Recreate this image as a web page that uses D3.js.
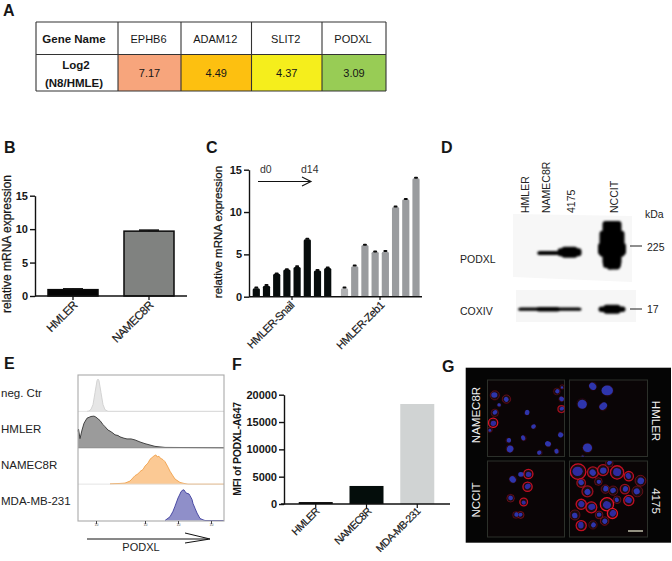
<!DOCTYPE html>
<html><head><meta charset="utf-8">
<script src="https://cdn.jsdelivr.net/npm/d3@7/dist/d3.min.js"></script>
<style>html,body{margin:0;padding:0;background:#fff}svg{display:block}text{font-family:"Liberation Sans",Arial,sans-serif;fill:#161616}</style>
</head><body><svg id="c" width="672" height="561" viewBox="0 0 672 561"></svg>
<script>
// ---------- data ----------
const geneNames = ["EPHB6","ADAM12","SLIT2","PODXL"];
const geneLog2 = ["7.17","4.49","4.37","3.09"];
const geneColors = ["#f7a57c","#fdc010","#f5ee1c","#98cc55"];
const bCats = ["HMLER","NAMEC8R"];
const bVals = [0.95,9.7];
const bErr = [0.12,0.15];
const cSnail = [1,1.3,2.7,3.2,3.5,6.8,3.1,3.4];
const cZeb = [1,3.6,6.1,5.3,5.3,10.6,11.5,14];
const cErr = [0.12,0.12,0.08,0.08,0.15,0.1,0.1,0.1];
const fCats = ["HMLER","NAMEC8R","MDA-MB-231"];
const fVals = [350,3300,18300];
const fColors = ["#000","#040d0b","#d0d3d3"];
const eRows = ["neg. Ctr","HMLER","NAMEC8R","MDA-MB-231"];
const negX=[9,11,13,15,17,19,20,21,23,25,27,30,146], negY=[0,1,6,20,55,90,95,90,55,20,5,0,0];
const hmlX=[0,0.5,2,4,6,9,13,16,18,20,22,25,27,30,32,35,37,40,42,46,49,53,57,62,67,72,77,87,146], hmlY=[48,55,27,52,72,87,92,93,90,85,80,68,62,52,49,43,38,36,32,28,26,26,23,17,12,8,4,1,0];
const namX=[32,42,47,52,57,60,62,65,67,70,72,74,76,78,79,81,82,85,87,90,92,95,97,100,102,106,110,146], namY=[1,2,3,9,25,30,37,43,53,62,73,78,83,86,80,82,77,72,66,50,38,24,15,9,5,2,0,0];
const mdaX=[87,92,95,97,100,102,103,105,106,108,109,111,112,114,115,117,119,122,125,127,146], mdaY=[0,11,27,42,66,78,85,90,90,81,80,78,73,62,50,36,22,6,2,0,0];
const eTickVals=[18,67,100,133];
const lanes=["HMLER","NAMEC8R","4175","NCCIT"], lanePos=[0,1,2,4];
const podxlBands=[[1,22,4,56],[2,24,8,55],[2,16,11,55],[4,19,44,41],[4,25,26,42],[4,28,12,50],[4,18,9,72],[4.12,11,8,75],[3.9,6,10,74]];
const coxBands=[[0.1,22,3.2,60],[1,24,4.5,60],[2,24,3.2,60],[4,27,5.5,60],[4,17,9,60]];
// cells: x%, y%, radius%, red-membrane signal
const cellsNamec=[[9.5,20,6,.4],[24.6,25,5.5,.45],[7.3,56,6,.95],[9.5,43,5,.3],[15,33,2.5,.1],[3,65,3.5,.3],[51,43,3.5,0],[60,61,3.5,.05],[27,79,3.5,.1],[47,76,3.5,.15],[29,90,5,.15],[68,95,3.5,.1],[79,84,4,.05],[90,93,3.5,.1],[95,71,4,0],[96,38,4.5,.7],[96,25,3.5,.2],[97,9,3,.25],[90,15,4.5,.25]];
const cellsHmler=[[49,14,7.5,.05],[30,8,5.5,.05],[16,31,7,.05],[43,35,5.5,.05],[23,89,6.5,.1],[17,100,2.5,.05]];
const cellsNccit=[[44,18,3.5,0],[33,24,5,.1],[53,17,6,.85],[52,34,6,.85],[30,49,5,.45],[47,54,5,.85],[37,71,4.5,.3],[43,71,4.5,.55]];
const cells4175=[[11,14,10,.9],[30,15,7,.75],[43,12,7,.75],[51,3,5,.4],[61,15,8.5,.85],[23,40,7,.65],[46,37,5.5,.45],[56,39,6,.45],[71,37,6,.65],[76,20,6,.85],[91,26,7,.55],[87,40,7,.45],[76,52,6.5,.85],[61,51,5,.45],[48,57,8.5,1],[28,61,7,.85],[15,57,6.5,.85],[7,71,6.5,.45],[55,69,6.5,1],[38,71,5,.55],[30,84,5.5,.3],[15,85,6.5,.85],[45,79,5.5,.55],[37,27,5,.45],[15,29,5.5,.65]];
// ---------- helpers ----------
const svg=d3.select("#c");
const defs=svg.append("defs");
[["b1",1.3],["b2",.6],["b3",.45]].forEach(([id,s])=>defs.append("filter").attr("id",id).attr("x","-20%").attr("y","-20%").attr("width","140%").attr("height","140%").append("feGaussianBlur").attr("stdDeviation",s));
function T(x,y,s,o={}){const t=svg.append("text").attr("x",x).attr("y",y).text(s).attr("font-size",o.size||11).attr("font-weight",o.bold?"bold":"normal").attr("text-anchor",o.anchor||"start");
 if(o.rot!=null)t.attr("transform",`rotate(${o.rot},${x},${y})`);if(o.fill)t.style("fill",o.fill);if(o.ls)t.attr("letter-spacing",o.ls);if(o.heavy)t.style("stroke","#161616").style("stroke-width",o.heavy);return t;}
function L(x1,y1,x2,y2,w=1.3,c="#111"){svg.append("line").attr("x1",x1).attr("y1",y1).attr("x2",x2).attr("y2",y2).attr("stroke",c).attr("stroke-width",w);}
function styleAxis(g,size){g.selectAll("path,line").attr("stroke","#111").attr("stroke-width",1.4);g.selectAll("text").attr("font-size",size).attr("font-weight","bold");g.selectAll("path").attr("fill","none");}
function yAxis(x,scale,vals,size=11){const g=svg.append("g").attr("transform",`translate(${x},0)`).call(d3.axisLeft(scale).tickValues(vals).tickSize(5).tickPadding(2).tickSizeOuter(0).tickFormat(d3.format("d")));styleAxis(g,size);return g;}
function rotLabels(list,size,ls){list.forEach(([x,y,s])=>T(x,y,s,{anchor:"end",rot:-45,size,ls,heavy:.2}));}
[["A",3,16],["B",4,153],["C",206,153],["D",441,153],["E",4,369],["F",232,370],["G",442,372]].forEach(([s,x,y])=>T(x,y,s,{bold:true,size:16}));
// ---------- A ----------
const colEdges=[36,118,181,251.5,322,386], rowEdges=[22,54.5,91];
svg.append("rect").attr("x",36).attr("y",22).attr("width",350).attr("height",69).attr("fill","#fff");
svg.selectAll(".gc").data(geneColors).join("rect").attr("x",(d,i)=>colEdges[i+1]).attr("y",rowEdges[1]).attr("width",(d,i)=>colEdges[i+2]-colEdges[i+1]).attr("height",rowEdges[2]-rowEdges[1]).attr("fill",d=>d);
colEdges.forEach(x=>L(x,22,x,91,1.1,"#333"));rowEdges.forEach(y=>L(36,y,386,y,1.1,"#333"));
T(74,42.5,"Gene Name",{bold:true,size:11.5,anchor:"middle"});
T(76,69,"Log2",{bold:true,size:11.5,anchor:"middle"});T(74,87,"(N8/HMLE)",{bold:true,size:11.5,anchor:"middle"});
geneNames.forEach((g,i)=>{const cx=(colEdges[i+1]+colEdges[i+2])/2;T(cx-1,42.5,g,{size:11,anchor:"middle"});T(cx,77,geneLog2[i],{size:11,anchor:"middle"});});
// ---------- B ----------
const bx=d3.scaleBand().domain(bCats).range([35,187]).paddingInner(.342).paddingOuter(.171), by=d3.scaleLinear().domain([0,15]).range([296,195.7]);
bCats.forEach((c,i)=>{const x=bx(c),w=bx.bandwidth();
 svg.append("rect").attr("x",x).attr("y",by(bVals[i])).attr("width",w).attr("height",by(0)-by(bVals[i])).attr("fill",i?"#808280":"#050505").attr("stroke","#0a0a0a").attr("stroke-width",1.5);
 L(x+w/2-10,by(bVals[i]+bErr[i]),x+w/2+10,by(bVals[i]+bErr[i]),1.6);L(x+w/2,by(bVals[i]),x+w/2,by(bVals[i]+bErr[i]),1.5);
 L(x+w/2,296,x+w/2,300,1.3);});
yAxis(35,by,[0,5,10,15]);L(35,296,187,296,1.5);
T(11,244,"relative mRNA expression",{size:12,anchor:"middle",rot:-90,heavy:.25});
rotLabels([[78,306,"HMLER"],[154,306,"NAMEC8R"]],11.5,-.5);
// ---------- C ----------
const cy=d3.scaleLinear().domain([0,15]).range([296.7,169.7]);
const cxS=d3.scaleLinear().domain([0,7]).range([256.3,327.7]),cxZ=d3.scaleLinear().domain([0,7]).range([344.5,416]);
function cBars(vals,sc,fn){vals.forEach((v,i)=>{svg.append("rect").attr("x",sc(i)-3.6).attr("y",cy(v)).attr("width",7.2).attr("height",cy(0)-cy(v)).attr("rx",1.5).attr("fill",fn(i));
 svg.append("rect").attr("x",sc(i)-2).attr("y",cy(v+cErr[i])-.6).attr("width",4).attr("height",2).attr("rx",1).attr("fill","#0a0a0a");});}
cBars(cSnail,cxS,()=>"#070c0c");cBars(cZeb,cxZ,i=>i?"#9a9c9f":"#b0b1b3");
yAxis(249,cy,[0,5,10,15]);L(249,296.7,422,296.7,1.5);L(292,296.7,292,300,1.2);L(380,296.7,380,300,1.2);
T(222,232,"relative mRNA expression",{size:11.5,anchor:"middle",rot:-90,heavy:.25});
T(260,173,"d0",{size:10.5,fill:"#333"});T(301,173,"d14",{size:10.5,fill:"#333"});
L(258,181.5,311,181.5,1.1);svg.append("path").attr("d","M302,177 L311,181.5 L302,186").attr("fill","none").attr("stroke","#111").attr("stroke-width",1.1);
rotLabels([[295,306,"HMLER-Snail"],[385,306,"HMLER-Zeb1"]],11,-.5);
// ---------- D ----------
const laneX=d3.scaleLinear().domain([0,4]).range([526,611]);
lanes.forEach((s,i)=>T(laneX(lanePos[i])+[3,3,6,7][i],213,s,{rot:-90,size:10.5,fill:"#222"}));
svg.append("path").attr("d","M513,214 L632,216 L632,282 L513,277Z").attr("fill","#f7f7f7");
svg.append("rect").attr("x",516).attr("y",290).attr("width",120).attr("height",32).attr("fill","#f6f6f6");
const pY=d3.scaleLinear().domain([0,100]).range([216,282]),cY=d3.scaleLinear().domain([0,100]).range([290,322]);
function bands(list,ys){svg.append("g").attr("filter","url(#b1)").selectAll("rect").data(list).join("rect").attr("x",d=>laneX(d[0])-d[1]/2+1).attr("y",d=>ys(d[3])-d[2]/2).attr("width",d=>d[1]).attr("height",d=>d[2]).attr("rx",3).attr("fill","#060606");}
bands(podxlBands,pY);bands(coxBands,cY);
T(460,263,"PODXL",{size:10.5,fill:"#222"});T(460,315,"COXIV",{size:10.5,fill:"#222"});
T(645,218,"kDa",{size:10.5,fill:"#222"});T(647,251,"225",{size:10.5,fill:"#222"});T(647,313,"17",{size:10.5,fill:"#222"});
L(630,246,642,246,1.1,"#333");L(630,309,642,309,1.1,"#333");
// ---------- E ----------
const ex=d3.scaleLinear().domain([0,146]).range([78,224]);
const eBand=d3.scaleBand().domain(eRows).range([375,520.5]);
const eSeries=[[negX,negY,"#e6e6e6","#cfcfcf"],[hmlX,hmlY,"#9b9b9b","#333"],[namX,namY,"#fbc994","#f0a24c"],[mdaX,mdaY,"#8f8fc9","#3d3d9d"]];
eRows.forEach((r,i)=>{const b=eBand(r)+eBand.bandwidth();const y=d3.scaleLinear().domain([0,100]).range([b,b-34]);
 const [xs,ys,f,st]=eSeries[i];const pts=xs.map((x,k)=>[x,ys[k]]);
 svg.append("path").datum(pts).attr("d",d3.area().x(d=>ex(d[0])).y0(b).y1(d=>y(d[1])).curve(d3.curveLinear)).attr("fill",f);
 svg.append("path").datum(pts).attr("d",d3.line().x(d=>ex(d[0])).y(d=>y(d[1])).curve(d3.curveLinear)).attr("fill","none").attr("stroke",st).attr("stroke-width",.9);
 if(i<3)L(78,b,224,b,i==1?1:.8,i==1?"#888":"#ddd");
 T(1,[397,433,469,505][i],r,{size:11.5,fill:"#222"});
});
svg.append("rect").attr("x",78).attr("y",375).attr("width",146).attr("height",146).attr("fill","none").attr("stroke","#aaa").attr("stroke-width",1.1);
const eAx=svg.append("g").attr("transform","translate(0,521)").call(d3.axisBottom(ex).tickValues(eTickVals).tickSize(3).tickPadding(0).tickFormat(()=>"10"));
eAx.selectAll("path").attr("stroke","none").attr("fill","none");eAx.selectAll("line").attr("stroke","#444");eAx.selectAll("text").attr("font-size",3.5).style("fill","#555");
L(87,539,208,539,1);svg.append("path").attr("d","M185,533 L210,539 L185,543").attr("fill","none").attr("stroke","#111").attr("stroke-width",1);
T(141,551,"PODXL",{size:11,anchor:"middle",fill:"#222"});
// ---------- F ----------
const fx=d3.scaleBand().domain(fCats).range([284,449]).paddingInner(.33).paddingOuter(.29),fy=d3.scaleLinear().domain([0,20000]).range([504,394.7]);
fCats.forEach((c,i)=>{svg.append("rect").attr("x",fx(c)).attr("y",fy(fVals[i])).attr("width",fx.bandwidth()).attr("height",fy(0)-fy(fVals[i])).attr("fill",fColors[i]);L(fx(c)+fx.bandwidth()/2,504,fx(c)+fx.bandwidth()/2,508,1.2);});
yAxis(284,fy,[0,5000,10000,15000,20000]);L(281,504,450,504,1.4);
T(241,449,"MFI of PODXL-A647",{size:10.5,anchor:"middle",rot:-90,bold:true,ls:-.3});
rotLabels([[320,512,"HMLER"],[372,512,"NAMEC8R"],[421,512,"MDA-MB-231"]],10.5,-.6);
// ---------- G ----------
svg.append("rect").attr("x",465.7).attr("y",367.7).attr("width",205.3).attr("height",175).attr("fill","#050505");
const gPanels=[[487.5,380,77,76.5,cellsNamec],[569.5,380,78,76.5,cellsHmler],[487.5,461,77,76,cellsNccit],[569.5,461,78,76,cells4175]];
gPanels.forEach(([x,y,w,h,cells])=>{
 const sx=d3.scaleLinear().domain([0,100]).range([x,x+w]),sy=d3.scaleLinear().domain([0,100]).range([y,y+h]),sr=d3.scaleLinear().domain([0,100]).range([0,w]);
 const clip="cp"+Math.round(x)+Math.round(y);
 defs.append("clipPath").attr("id",clip).append("rect").attr("x",x).attr("y",y).attr("width",w).attr("height",h);
 svg.append("rect").attr("x",x).attr("y",y).attr("width",w).attr("height",h).attr("fill","#0a0506").attr("stroke","#2c302a").attr("stroke-width",1);
 const g=svg.append("g").attr("clip-path",`url(#${clip})`).append("g").attr("filter","url(#b3)");
 g.selectAll(".body").data(cells).join("circle").attr("cx",d=>sx(d[0])).attr("cy",d=>sy(d[1])).attr("r",d=>sr(d[2])).attr("fill","#1e0810").attr("stroke","#e01428").attr("stroke-opacity",d=>d[3]).attr("stroke-width",d=>d[3]>.6?1.3:.8);
 g.selectAll(".nuc").data(cells).join("ellipse").attr("cx",(d,i)=>sx(d[0])+(i%3-1)*.5).attr("cy",(d,i)=>sy(d[1])+(i%2-.5)*.6).attr("rx",(d,i)=>sr(d[2])*(d[3]>.2?.66:.98)*(1-(i%3)*.08)).attr("ry",(d,i)=>sr(d[2])*(d[3]>.2?.6:.84)*(1-(i%2)*.1)).attr("fill",d=>d[3]>.8?"#2f2c9e":"#2e36ac").attr("transform",(d,i)=>`rotate(${i*47%180},${sx(d[0])},${sy(d[1])})`);
});
[[480,415,"NAMEC8R",-90],[652,421,"HMLER",90],[480,500,"NCCIT",-90],[652,501,"4175",90]].forEach(([x,y,s,r])=>T(x,y,s,{size:11.5,anchor:"middle",rot:r,fill:"#f2f2f2"}));
L(628,531,643,531,1.4,"#cfcfb8");
</script></body></html>
